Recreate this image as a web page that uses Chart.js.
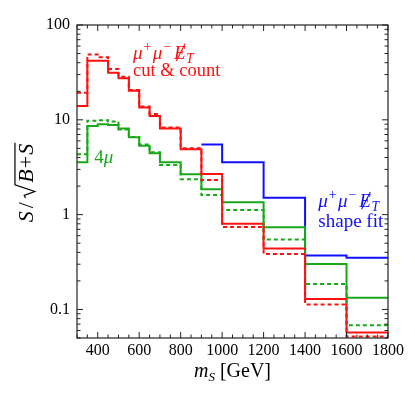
<!DOCTYPE html>
<html>
<head>
<meta charset="utf-8">
<script src="https://cdn.jsdelivr.net/npm/chart.js@4.4.1/dist/chart.umd.min.js"></script>
<style>
  html, body { margin: 0; padding: 0; background: #fff; }
  #wrap { width: 415px; height: 397px; }
</style>
</head>
<body>
<div id="wrap"><canvas id="chart"></canvas></div>
<script>
// bin edges (GeV)
const edges = [300, 350, 400, 450, 500, 550, 600, 650, 700, 800, 900, 1000, 1200, 1400, 1600, 1800];
const blueEdges = [900, 1000, 1200, 1400, 1600, 1800];

// S/sqrt(B+S) per bin
const redCut = [14.0, 42, 42, 31.4, 27.4, 20.3, 13.5, 11.0, 8.1, 4.9, 2.68, 0.80, 0.44, 0.129, 0.057];
const redCutDash = [19.3, 49, 45.6, 34.4, 28.5, 20.6, 13.8, 11.5, 8.3, 5.0, 2.32, 0.74, 0.384, 0.113, 0.052];
const green4mu = [3.56, 8.6, 9.0, 8.8, 8.1, 6.54, 5.33, 4.43, 3.56, 2.66, 1.85, 1.35, 0.735, 0.301, 0.133];
const green4muDash = [4.33, 9.8, 9.9, 9.6, 7.9, 6.6, 5.5, 4.55, 3.34, 2.36, 1.61, 1.12, 0.548, 0.185, 0.068];
const blueShape = [5.5, 3.56, 1.51, 0.37, 0.35];

const xTicks = [400, 600, 800, 1000, 1200, 1400, 1600, 1800];
const yTicks = [0.1, 1, 10, 100];

const RED = "#ff1010";
const GREEN = "#1aa81a";
const BLUE = "#1010ff";
const SERIF = '"Liberation Serif", "Times New Roman", "DejaVu Serif", serif';

function steps(e, v) {
  const pts = v.map((y, i) => ({ x: e[i], y: y }));
  pts.push({ x: e[e.length - 1], y: v[v.length - 1] });
  return pts;
}

function it(s) { return "italic " + s + "px " + SERIF; }
function rm(s) { return s + "px " + SERIF; }

function richWidth(ctx, parts) {
  let w = 0;
  for (const p of parts) { ctx.font = p.f; w += ctx.measureText(p.t).width + (p.sp || 0); }
  return w;
}

function rich(ctx, x, y, parts, color) {
  ctx.fillStyle = color;
  ctx.strokeStyle = color;
  ctx.textAlign = "left";
  ctx.textBaseline = "alphabetic";
  let cx = x;
  for (const p of parts) {
    ctx.font = p.f;
    ctx.fillText(p.t, cx, y + (p.dy || 0));
    const w = ctx.measureText(p.t).width;
    if (p.slash) {
      ctx.lineWidth = 1.1;
      ctx.beginPath();
      ctx.moveTo(cx + w * 0.2, y + 2);
      ctx.lineTo(cx + w * 0.95, y - p.h);
      ctx.stroke();
    }
    cx += w + (p.sp || 0);
  }
  return cx;
}

function missingET(s) {
  return [
    { t: "μ", f: it(s), sp: 1 },
    { t: "+", f: rm(s * 0.72), dy: -s * 0.42, sp: 1.5 },
    { t: "μ", f: it(s), sp: 1 },
    { t: "−", f: rm(s * 0.72), dy: -s * 0.42, sp: 3 },
    { t: "E", f: it(s), slash: true, h: s * 0.8, sp: 0.5 },
    { t: "T", f: it(s * 0.72), dy: s * 0.22 }
  ];
}

const decor = {
  id: "decor",
  afterDraw(chart) {
    const ctx = chart.ctx;
    const xs = chart.scales.x, ys = chart.scales.y;
    const a = chart.chartArea;
    ctx.save();

    // frame
    ctx.strokeStyle = "#222";
    ctx.lineWidth = 1.2;
    ctx.strokeRect(a.left, a.top, a.right - a.left, a.bottom - a.top);

    // inward ticks on all sides
    ctx.lineWidth = 1;
    ctx.beginPath();
    for (let v = 300; v <= 1800; v += 50) {
      const px = xs.getPixelForValue(v);
      const len = v % 200 === 0 ? 6 : 3.5;
      ctx.moveTo(px, a.bottom); ctx.lineTo(px, a.bottom - len);
      ctx.moveTo(px, a.top); ctx.lineTo(px, a.top + len);
    }
    for (let d = 0.01; d <= 100; d *= 10) {
      for (let k = 1; k <= 9; k++) {
        const v = d * k;
        if (v < ys.min || v > ys.max * 1.0001) continue;
        const py = ys.getPixelForValue(v);
        const len = k === 1 ? 6 : 3.5;
        ctx.moveTo(a.left, py); ctx.lineTo(a.left + len, py);
        ctx.moveTo(a.right, py); ctx.lineTo(a.right - len, py);
      }
    }
    ctx.stroke();

    // in-plot labels
    rich(ctx, xs.getPixelForValue(570), ys.getPixelForValue(43.8), missingET(19), RED);
    ctx.font = rm(18.5);
    ctx.fillStyle = RED;
    ctx.fillText("cut & count", xs.getPixelForValue(570), ys.getPixelForValue(29.2));

    rich(ctx, xs.getPixelForValue(383), ys.getPixelForValue(3.5),
      [{ t: "4", f: rm(19) }, { t: "μ", f: it(19) }], GREEN);

    rich(ctx, xs.getPixelForValue(1464), ys.getPixelForValue(1.2), missingET(19), BLUE);
    ctx.font = rm(19);
    ctx.fillStyle = BLUE;
    ctx.fillText("shape fit", xs.getPixelForValue(1464), ys.getPixelForValue(0.745));

    // x title
    const xt = [{ t: "m", f: it(20) }, { t: "S", f: it(13), dy: 4 }, { t: " [GeV]", f: rm(20) }];
    const xw = richWidth(ctx, xt);
    rich(ctx, (a.left + a.right) / 2 - xw / 2, 377, xt, "#000");

    // y title, rotated
    ctx.translate(33, 183);
    ctx.rotate(-Math.PI / 2);
    const s = 22;
    const yt1 = [{ t: "S", f: it(s), sp: 3 }, { t: "/", f: rm(s), sp: 4 }];
    const yt2 = [{ t: "B", f: it(s), sp: 1 }, { t: "+", f: rm(s), sp: 1 }, { t: "S", f: it(s) }];
    const radW = s * 0.7;
    const w1 = richWidth(ctx, yt1), w2 = richWidth(ctx, yt2);
    const x0 = -(w1 + radW + w2) / 2;
    rich(ctx, x0, 0, yt1, "#000");
    const rx = x0 + w1;
    ctx.strokeStyle = "#000";
    ctx.lineWidth = 1.2;
    ctx.beginPath();
    ctx.moveTo(rx, -s * 0.34);
    ctx.lineTo(rx + s * 0.12, -s * 0.4);
    ctx.lineTo(rx + s * 0.3, s * 0.08);
    ctx.lineTo(rx + s * 0.6, -s * 0.82);
    ctx.lineTo(rx + radW + w2 + 1, -s * 0.82);
    ctx.stroke();
    rich(ctx, rx + radW, 0, yt2, "#000");

    ctx.restore();
  }
};

function line(data, color, dashed) {
  return {
    data: data,
    borderColor: color,
    borderWidth: 2,
    borderDash: dashed ? [4, 3] : [],
    stepped: true,
    pointRadius: 0,
    fill: false
  };
}

function draw() {
  const ctx = document.getElementById("chart").getContext("2d");
  new Chart(ctx, {
    type: "line",
    data: {
      datasets: [
        line(steps(edges, redCutDash), RED, true),
        line(steps(edges, green4muDash), GREEN, true),
        line(steps(edges, redCut), RED, false),
        line(steps(edges, green4mu), GREEN, false),
        line(steps(blueEdges, blueShape), BLUE, false)
      ]
    },
    options: {
      responsive: true,
      maintainAspectRatio: false,
      animation: false,
      layout: { padding: { top: 25, right: 27, left: 0, bottom: 0 } },
      plugins: { legend: { display: false }, tooltip: { enabled: false } },
      scales: {
        x: {
          type: "linear",
          min: 300,
          max: 1800,
          grid: { display: false },
          border: { display: false },
          afterBuildTicks: (s) => { s.ticks = xTicks.map((v) => ({ value: v })); },
          afterFit: (s) => { s.height = 59; },
          ticks: { color: "#000", font: { family: SERIF, size: 16 }, padding: -5, maxRotation: 0, autoSkip: false,
            callback: (v) => String(v) }
        },
        y: {
          type: "logarithmic",
          min: 0.05,
          max: 100,
          grid: { display: false },
          border: { display: false },
          afterBuildTicks: (s) => { s.ticks = yTicks.map((v) => ({ value: v })); },
          afterFit: (s) => { s.width = 77; },
          ticks: { color: "#000", font: { family: SERIF, size: 16 }, padding: -1, autoSkip: false,
            callback: (v) => String(v) }
        }
      }
    },
    plugins: [decor]
  });
}

Promise.all([
  document.fonts.load('16px "Liberation Serif"'),
  document.fonts.load('italic 16px "Liberation Serif"')
]).then(draw, draw);
</script>
</body>
</html>
